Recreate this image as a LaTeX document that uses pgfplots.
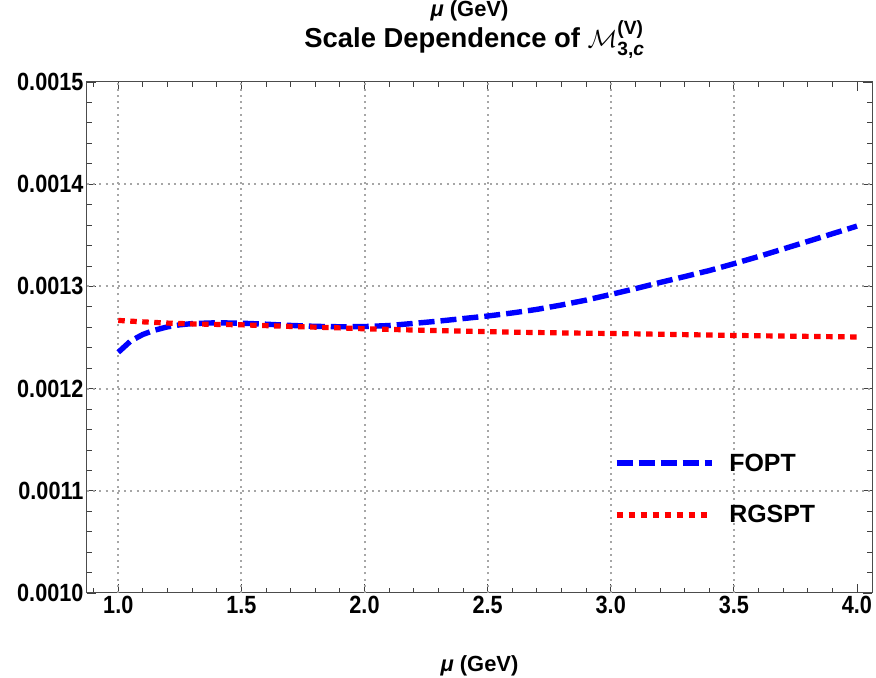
\documentclass[border=0pt]{standalone}
\usepackage{amsmath}
\usepackage{fontspec}
\setmainfont{Liberation Sans}
\newfontfamily\tickfont{Liberation Sans}[FakeStretch=0.87]
\usepackage{pgfplots}
\pgfplotsset{compat=1.18}
\usetikzlibrary{calc}

\pgfplotstableread{
x y
1.00 0.0012355
1.05 0.0012465
1.10 0.0012530
1.15 0.0012573
1.20 0.0012604
1.25 0.0012624
1.30 0.0012636
1.40 0.0012644
1.50 0.0012640
1.60 0.0012630
1.70 0.0012618
1.80 0.0012609
1.90 0.0012605
2.00 0.0012607
2.10 0.0012617
2.20 0.0012638
2.30 0.0012660
2.40 0.0012685
2.50 0.0012710
2.60 0.0012740
2.70 0.0012775
2.80 0.0012818
2.90 0.0012866
3.00 0.0012921
3.10 0.0012978
3.20 0.0013038
3.30 0.0013096
3.40 0.0013155
3.50 0.0013222
3.60 0.0013292
3.70 0.0013366
3.80 0.0013440
3.90 0.0013515
4.00 0.0013590
}\fopt

\pgfplotstableread{
x y
1.00 0.0012667
1.10 0.0012653
1.20 0.0012641
1.30 0.0012633
1.40 0.0012628
1.50 0.0012624
1.60 0.0012616
1.70 0.0012608
1.80 0.0012601
1.90 0.0012594
2.00 0.0012585
2.20 0.0012573
2.40 0.0012562
2.50 0.0012557
2.60 0.0012552
2.80 0.0012545
3.00 0.0012539
3.20 0.0012532
3.40 0.0012524
3.50 0.0012520
3.60 0.0012517
3.80 0.0012511
4.00 0.0012505
}\rgspt

\begin{document}
\begin{tikzpicture}
\begin{axis}[
  scale only axis, width=785bp, height=511bp,
  xmin=0.873, xmax=4.061, ymin=0.0010, ymax=0.0015,
  clip=false,
  xtick={1.0,1.5,2.0,2.5,3.0,3.5,4.0},
  minor xtick={0.9,1.1,1.2,1.3,1.4,1.6,1.7,1.8,1.9,2.1,2.2,2.3,2.4,2.6,2.7,2.8,2.9,3.1,3.2,3.3,3.4,3.6,3.7,3.8,3.9},
  ytick={0.0010,0.0011,0.0012,0.0013,0.0014,0.0015},
  minor ytick={0.00102,0.00104,0.00106,0.00108,0.00112,0.00114,0.00116,0.00118,0.00122,0.00124,0.00126,0.00128,0.00132,0.00134,0.00136,0.00138,0.00142,0.00144,0.00146,0.00148},
  tick pos=both, tick align=inside,
  major tick length=9bp, minor tick length=5bp,
  every tick/.style={black!75, line width=0.8bp},
  axis line style={black!70, line width=1bp},
  scaled y ticks=false, scaled x ticks=false,
  yticklabel style={/pgf/number format/.cd, fixed, fixed zerofill, precision=4},
  xticklabel style={/pgf/number format/.cd, fixed, fixed zerofill, precision=1},
  /pgf/number format/assume math mode=true,
  tick label style={font=\tickfont\bfseries\fontsize{25}{25}\selectfont, black},
  extra x ticks={1.0,1.5,2.0,2.5,3.0,3.5},
  extra x tick labels={},
  extra y ticks={0.0011,0.0012,0.0013,0.0014},
  extra y tick labels={},
  extra tick style={grid=major, major tick length=0pt,
    major grid style={black!35, line width=2bp, dash pattern=on 2bp off 4.2bp}},
  title={Scale Dependence of $\mathcal{M}^{\text{\bfseries (V)}}_{\text{\bfseries 3,\itshape c}}$},
  title style={font=\bfseries\fontsize{27.5}{30}\selectfont, at={(axis description cs:0.5,1)}, anchor=base, yshift=29bp, xshift=-5bp},
  xlabel={{\itshape μ} (GeV)},
  xlabel style={font=\bfseries\fontsize{22}{24}\selectfont, at={(axis description cs:0.5,0)}, anchor=base, yshift=-79bp},
  legend style={at={(0.671,0.2035)}, anchor=west, draw=none, fill=none, inner sep=0pt,
    row sep=29bp, font=\bfseries\fontsize{25}{25}\selectfont, cells={anchor=west}},
  legend image code/.code={\draw[#1] (0bp,0bp) -- (95bp,0bp); \path (108bp,0bp);},
]
\addplot[blue, line width=5.4bp, dash pattern=on 16bp off 6bp] table {\fopt};
\addlegendentry{FOPT}
\addplot[red, line width=5.2bp, dash pattern=on 6.5bp off 5.5bp] table {\rgspt};
\addlegendentry{RGSPT}
\node[anchor=base, font=\bfseries\fontsize{22}{24}\selectfont, yshift=65bp, xshift=-10bp] at (rel axis cs:0.5,1) {{\itshape μ} (GeV)};
\coordinate (ll) at (rel axis cs:0,0);
\coordinate (ur) at (rel axis cs:1,1);
\end{axis}
\pgfresetboundingbox
\path[use as bounding box] ($(ll)+(-87bp,-85bp)$) rectangle ($(ur)+(4bp,82bp)$);
\end{tikzpicture}
\end{document}
